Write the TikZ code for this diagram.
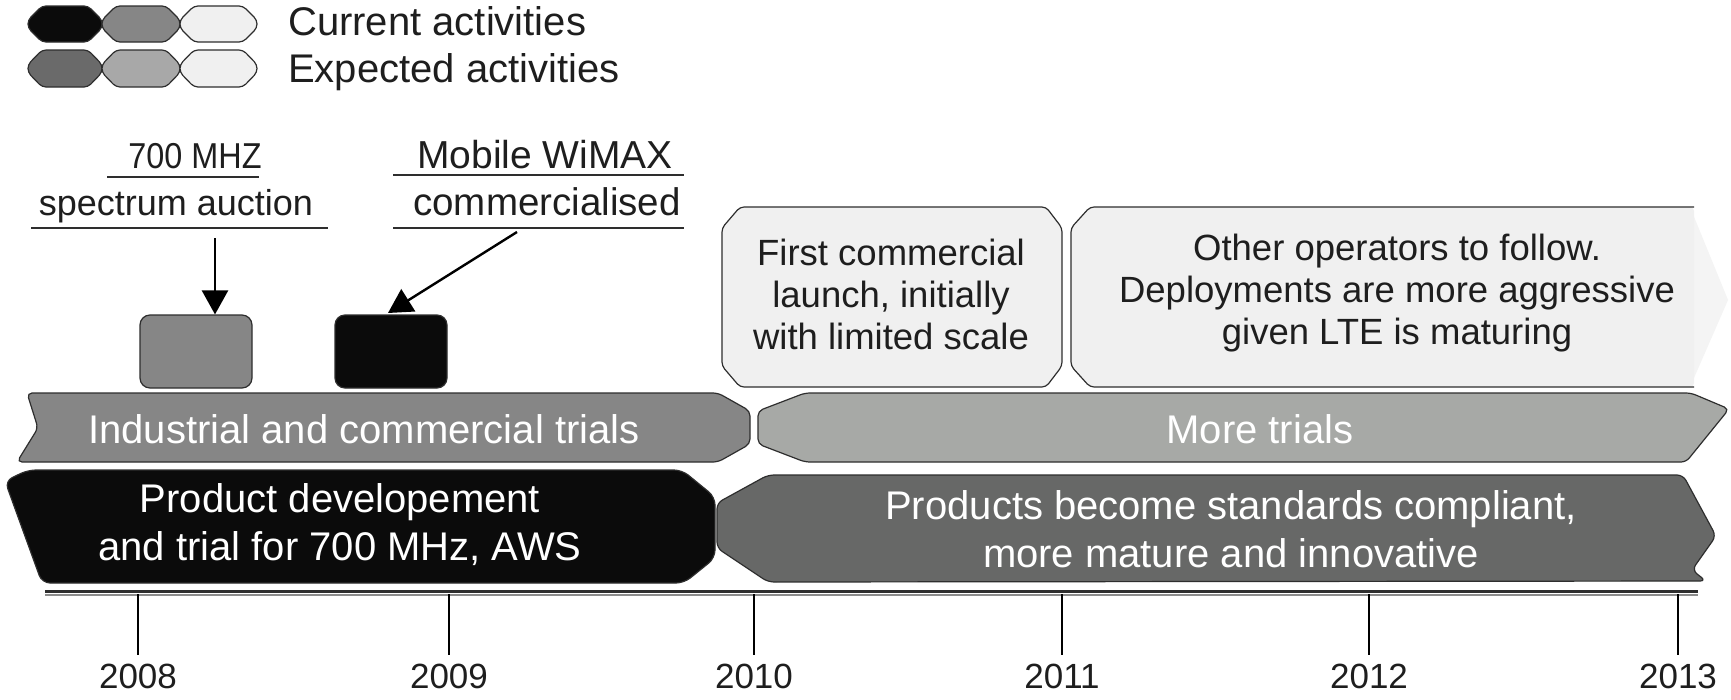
\documentclass[tikz,border=0pt]{standalone}
\usepackage{fontspec}
\setmainfont{Liberation Sans}
\newfontfamily\slimsans[FakeStretch=0.9]{Liberation Sans}
\usetikzlibrary{arrows.meta}

\definecolor{cblack}{HTML}{0B0B0B}
\definecolor{cgray}{HTML}{868686}
\definecolor{cmid}{HTML}{A7A9A6}
\definecolor{cdark}{HTML}{676867}
\definecolor{cdarkleg}{HTML}{6A6A6A}
\definecolor{cmidleg}{HTML}{A8A8A8}
\definecolor{clight}{HTML}{F0F0F0}
\definecolor{cfade}{HTML}{F4F4F4}
\definecolor{cline}{HTML}{2E2E2E}
\definecolor{ctext}{HTML}{1E1E1E}

% bevelled legend pill: x0, x1, y0, y1, fill
\newcommand\legpill[5]{%
  \path[outl, fill=#5, rounded corners=4pt]
    ({#1+14},#3) -- ({#2-14},#3) -- (#2,{(#3+#4)/2-4}) -- (#2,{(#3+#4)/2+4})
    -- ({#2-14},#4) -- ({#1+14},#4) -- (#1,{(#3+#4)/2+4}) -- (#1,{(#3+#4)/2-4}) -- cycle;}

\tikzset{
  outl/.style={draw=cline, line width=1.2pt},
  uline/.style={draw=cline, line width=2pt},
  arr/.style={-{Triangle[length=24pt,width=26pt]}, line width=2.4pt, draw=black},
  tick/.style={draw=black, line width=1.5pt},
  legtext/.style={anchor=base west, inner sep=0pt, text=ctext, font=\fontsize{40}{44}\selectfont},
  labtext/.style={anchor=base, inner sep=0pt, text=ctext},
  boxtext/.style={anchor=center, inner sep=0pt, align=center, text=ctext,
    font=\fontsize{36.5}{42}\selectfont},
  bartext/.style={anchor=center, inner sep=0pt, align=center, text=white,
    font=\fontsize{40}{48}\selectfont},
  year/.style={anchor=base, inner sep=0pt, text=ctext, font=\fontsize{35}{40}\selectfont},
  smallbox/.style={draw=cline, line width=1.2pt, rounded corners=10pt,
    minimum width=112pt, minimum height=73pt, inner sep=0pt},
}

\begin{document}
\begin{tikzpicture}[x=1pt, y=-1pt]
\useasboundingbox[fill=white] (0,0) rectangle (1731,699);

% ---- legend ----
\legpill{28}{102}{6}{42}{cblack}
\legpill{102}{180}{6}{42}{cgray}
\legpill{180}{257}{6}{42}{clight}
\legpill{28}{102}{50}{87}{cdarkleg}
\legpill{102}{180}{50}{87}{cmidleg}
\legpill{180}{257}{50}{87}{clight}
\node[legtext] (leg1) at (288,35) {Current activities};
\node[legtext] (leg2) at (288,82) {Expected activities};

% ---- milestone labels ----
\node[labtext, font=\slimsans\fontsize{36}{40}\selectfont] (lab700) at (195,168) {700 MHZ};
\node[labtext, font=\fontsize{36}{40}\selectfont] (labspec) at (176,215) {spectrum auction};
\draw[uline] (107,177) -- (259,177);
\draw[uline] (31,228) -- (328,228);
\node[labtext, font=\fontsize{39}{42}\selectfont] (labmob) at (545,168) {Mobile WiMAX};
\node[labtext, font=\fontsize{38.5}{42}\selectfont] (labcom) at (547,215) {commercialised};
\draw[uline] (393,175) -- (684,175);
\draw[uline] (393,228) -- (684,228);

% ---- milestone markers ----
\node[smallbox, fill=cgray] (gbox) at (196,351.5) {};
\node[smallbox, fill=cblack] (bbox) at (391,351.5) {};
\coordinate (u1) at (215,238);
\coordinate (u2) at (517,232);
\coordinate (bhit) at (388,313);
\draw[arr] (u1) -- (u1 |- gbox.north);
\draw[arr] (u2) -- (bhit);

% ---- launch callouts ----
\path[outl, fill=clight, rounded corners=4pt]
  (740,207) -- (1046,207) -- (1062,228) -- (1062,366) -- (1046,387)
  -- (740,387) -- (722,366) -- (722,228) -- cycle;
\node[boxtext] (fctext) at (891,294) {First commercial\\launch, initially\\with limited scale};

\fill[cfade] (1690,207) -- (1728,300) -- (1690,387) -- cycle;
\fill[clight, rounded corners=4pt]
  (1090,207) -- (1694,207) -- (1694,387) -- (1090,387) -- (1071,366) -- (1071,228) -- cycle;
\draw[outl, rounded corners=4pt]
  (1694,207) -- (1090,207) -- (1071,228) -- (1071,366) -- (1090,387) -- (1694,387);
\node[boxtext] (optext) at (1397,293) {Other operators to follow.\\Deployments are more aggressive\\given LTE is maturing};

% ---- trials row ----
\path[outl, fill=cgray, rounded corners=5pt]
  (27,393) -- (718,393) -- (750,411) -- (750,444) -- (718,462) -- (17,462) -- (38,428) -- cycle;
\path[outl, fill=cmid, rounded corners=5pt]
  (805,393) -- (1691,393) -- (1729,409) -- (1686,462) -- (805,462) -- (758,444) -- (758,411) -- cycle;
\node[bartext] (trtext1) at (364,429) {Industrial and commercial trials};
\node[bartext] (trtext2) at (1260,429) {More trials};

% ---- product row ----
\path[outl, fill=cblack, rounded corners=8pt]
  (28,470) -- (682,470) -- (715,497) -- (715,558) -- (684,583) -- (42,583) -- (5,481) -- cycle;
\path[outl, fill=cdark, rounded corners=6pt]
  (768,475) -- (1683,475) -- (1716,536) -- (1692,570) -- (1706,581) -- (768,582)
  -- (717,548) -- (717,503) -- cycle;
\node[bartext] (pdtext1) at (340,524.5) {Product developement\\and trial for 700 MHz, AWS};
\node[bartext] (pdtext2) at (1231,529.5) {Products become standards compliant,\\more mature and innovative};

% ---- time axis ----
\draw[line width=2.2pt, cline] (45,591.5) -- (1698,591.5);
\draw[line width=1.2pt, black!45] (45,595) -- (1698,595);
\foreach \yr/\xx in {2008/138, 2009/449, 2010/754, 2011/1062, 2012/1369, 2013/1678} {
  \coordinate (t\yr) at (\xx,594);
  \coordinate (b\yr) at (\xx,655);
  \draw[tick] (t\yr) -- (b\yr);
  \node[year] (y\yr) at (\xx,688) {\yr};
}
\end{tikzpicture}
\end{document}
